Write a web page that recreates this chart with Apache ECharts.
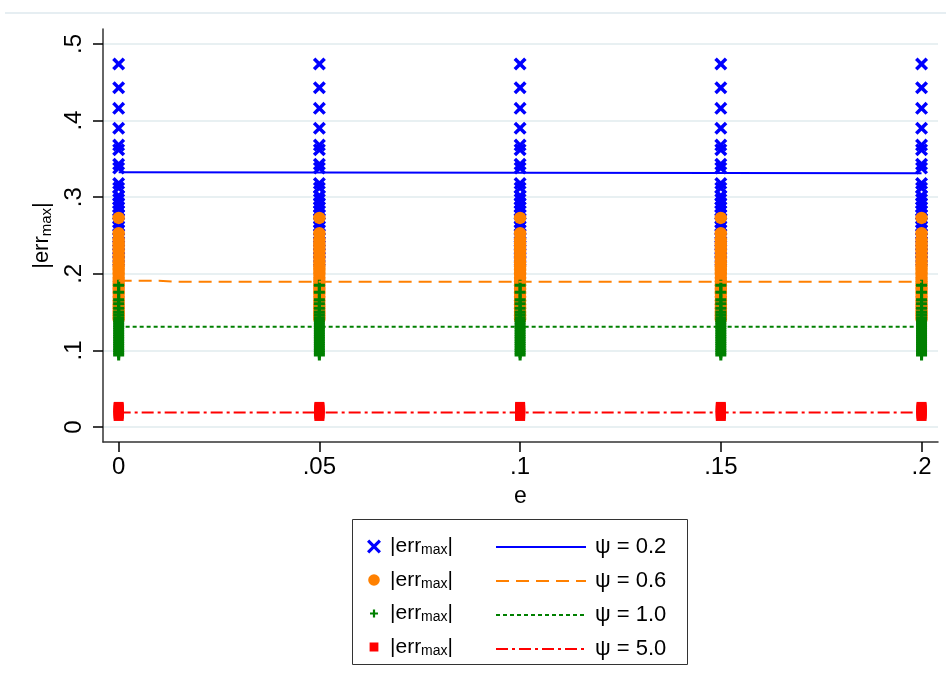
<!DOCTYPE html>
<html><head><meta charset="utf-8">
<script src="https://cdn.jsdelivr.net/npm/echarts@6/dist/echarts.min.js"></script>
<style>html,body{margin:0;padding:0;background:#fff}#c{width:951px;height:696px}</style>
</head><body><div id="c"></div>
<script>
// ---- data ----
const eValues = [0, 0.05, 0.1, 0.15, 0.2];
const xTicks = [0, 0.05, 0.1, 0.15, 0.2];
const xTickLabels = ['0', '.05', '.1', '.15', '.2'];
const yTicks = [0, 0.1, 0.2, 0.3, 0.4, 0.5];
const yTickLabels = ['0', '.1', '.2', '.3', '.4', '.5'];

// |err_max| values plotted at each e (the spread is the same in every column)
const errPsi02 = [0.474, 0.443, 0.416, 0.390, 0.368, 0.362, 0.343, 0.338, 0.318, 0.312,
  0.302, 0.297, 0.292, 0.287, 0.282, 0.277, 0.272, 0.267, 0.262, 0.257, 0.252,
  0.247, 0.242, 0.237, 0.232, 0.227, 0.222, 0.217];
const errPsi06 = [0.273, 0.253, 0.245, 0.240, 0.235, 0.230, 0.225, 0.220, 0.215, 0.210,
  0.205, 0.200, 0.195, 0.190, 0.185, 0.180, 0.175, 0.170, 0.165, 0.160, 0.155,
  0.150, 0.146, 0.141];
const errPsi10 = [0.185, 0.176, 0.166, 0.161, 0.155, 0.150, 0.146, 0.142, 0.139, 0.136,
  0.133, 0.130, 0.127, 0.124, 0.121, 0.118, 0.115, 0.112, 0.109, 0.106, 0.103,
  0.100, 0.097, 0.094];
const errPsi50 = [0.0144, 0.0165, 0.0185, 0.0205, 0.0225, 0.0245, 0.0262];

// fitted lines per psi
const lineE02 = [0, 0.05, 0.1, 0.15, 0.2];
const linePsi02 = [0.3326, 0.3323, 0.3320, 0.3317, 0.3313];
const lineE06 = [0, 0.01, 0.014, 0.05, 0.1, 0.15, 0.2];
const linePsi06 = [0.1909, 0.1909, 0.1896, 0.1896, 0.1896, 0.1896, 0.1896];
const lineE10 = [0, 0.05, 0.1, 0.15, 0.2];
const linePsi10 = [0.1308, 0.1308, 0.1308, 0.1308, 0.1308];
const lineE50 = [0, 0.05, 0.1, 0.15, 0.2];
const linePsi50 = [0.0190, 0.0190, 0.0190, 0.0190, 0.0190];

const psiLabels = ['ψ = 0.2', 'ψ = 0.6', 'ψ = 1.0', 'ψ = 5.0'];

// ---- build ----
const FONT = '"Liberation Sans", Arial, Helvetica, sans-serif';
function cols(vals) {
  const out = [];
  eValues.forEach(e => vals.forEach(v => out.push([e, v])));
  return out;
}
function pairs(xs, ys) { return xs.map((x, i) => [x, ys[i]]); }
function lbl(ticks, labels) {
  return v => { const i = ticks.findIndex(t => Math.abs(t - v) < 1e-9); return i < 0 ? '' : labels[i]; };
}
const X_PATH = 'path://M0,1.9L1.9,0L5,3.1L8.1,0L10,1.9L6.9,5L10,8.1L8.1,10L5,6.9L1.9,10L0,8.1L3.1,5Z';
const PLUS_PATH = 'path://M3.6,0H6.4V3.6H10V6.4H6.4V10H3.6V6.4H0V3.6H3.6Z';
// legend icons drawn smaller inside a 14x14 box
const CORNERS = 'M0,0L0.01,0L0,0.01ZM14,14L13.99,14L14,13.99Z';
const PLUS_ICON = 'path://' + CORNERS + 'M5.9,3H8.1V5.9H11V8.1H8.1V11H5.9V8.1H3V5.9H5.9Z';
const SQUARE_ICON = 'path://' + CORNERS + 'M2.6,2.6H11.4V11.4H2.6Z';
const CIRCLE_ICON = 'path://' + CORNERS + 'M1.2,7A5.8,5.8,0,1,0,12.8,7A5.8,5.8,0,1,0,1.2,7Z';
const X_ICON = 'path://M0,1.6L1.6,0L5,3.4L8.4,0L10,1.6L6.6,5L10,8.4L8.4,10L5,6.6L1.6,10L0,8.4L3.4,5Z';

const errRich = {
  a: { fontSize: 21, lineHeight: 22, fontFamily: FONT, color: '#000' },
  b: { fontSize: 14, lineHeight: 14, verticalAlign: 'bottom', fontFamily: FONT, color: '#000' }
};
const errRichTitle = {
  a: { fontSize: 22, lineHeight: 24, fontFamily: FONT, color: '#000' },
  b: { fontSize: 15, lineHeight: 15, verticalAlign: 'bottom', fontFamily: FONT, color: '#000' }
};
const errText = '{a||err}{b|max}{a||}';

const chart = echarts.init(document.getElementById('c'), null, { renderer: 'canvas' });
chart.setOption({
  animation: false,
  backgroundColor: '#fff',
  grid: { left: 103, right: 13, top: 29, bottom: 254, containLabel: false },
  xAxis: {
    type: 'value', min: -0.0039, max: 0.2041,
    name: 'e', nameLocation: 'middle', nameGap: 43,
    nameTextStyle: { fontSize: 23, fontFamily: FONT, color: '#000' },
    axisLine: { show: true, onZero: false, lineStyle: { color: '#333', width: 1.5 } },
    axisTick: { show: true, customValues: xTicks, length: 10, lineStyle: { color: '#000', width: 1.5 } },
    axisLabel: { customValues: xTicks, formatter: lbl(xTicks, xTickLabels), fontSize: 24, margin: 13, color: '#000', fontFamily: FONT },
    splitLine: { show: false }
  },
  yAxis: {
    type: 'value', min: -0.0196, max: 0.5196,
    name: errText, nameLocation: 'middle', nameGap: 32, nameRotate: 90,
    nameTextStyle: { rich: errRichTitle },
    axisLine: { show: true, onZero: false, lineStyle: { color: '#333', width: 1.5 } },
    axisTick: { show: true, customValues: yTicks, length: 10, lineStyle: { color: '#000', width: 1.5 } },
    axisLabel: { customValues: yTicks, formatter: lbl(yTicks, yTickLabels), rotate: 90, fontSize: 24, margin: 17, color: '#000', fontFamily: FONT },
    splitLine: { show: true, lineStyle: { color: '#e8f0f2', width: 2 } }
  },
  legend: [
    {
      data: [
        { name: 's02', icon: X_ICON },
        { name: 's06', icon: CIRCLE_ICON },
        { name: 's10', icon: PLUS_ICON },
        { name: 's50', icon: SQUARE_ICON }
      ],
      orient: 'vertical', left: 362, top: 531,
      itemWidth: 14, itemHeight: 14, itemGap: 12, selectedMode: false,
      formatter: () => errText,
      textStyle: { rich: errRich, padding: [0, 0, 0, 4] }
    },
    {
      data: ['l02', 'l06', 'l10', 'l50'], orient: 'vertical', left: 490, top: 531,
      itemWidth: 90, itemHeight: 14, itemGap: 12, selectedMode: false,
      itemStyle: { opacity: 0 },
      formatter: n => psiLabels[['l02', 'l06', 'l10', 'l50'].indexOf(n)],
      textStyle: { fontSize: 22, lineHeight: 22, fontFamily: FONT, color: '#000', padding: [0, 0, 0, 4] }
    }
  ],
  graphic: [
    { type: 'line', shape: { x1: 5, y1: 13, x2: 946, y2: 13 }, style: { stroke: '#e6eef2', lineWidth: 2 }, silent: true },
    { type: 'rect', shape: { x: 352.5, y: 519.5, width: 335, height: 145 }, style: { fill: 'none', stroke: '#333', lineWidth: 1 }, silent: true, z: 10 }
  ],
  series: [
    { name: 's02', type: 'scatter', data: cols(errPsi02), symbol: X_PATH, symbolSize: 13, itemStyle: { color: '#0000ff', opacity: 1 }, z: 2 },
    { name: 's06', type: 'scatter', data: cols(errPsi06), symbol: 'circle', symbolSize: 12.5, itemStyle: { color: '#ff8000', opacity: 1 }, z: 2 },
    { name: 's10', type: 'scatter', data: cols(errPsi10), symbol: PLUS_PATH, symbolSize: 11, itemStyle: { color: '#008000', opacity: 1 }, z: 2 },
    { name: 's50', type: 'scatter', data: cols(errPsi50), symbol: 'rect', symbolSize: 10, itemStyle: { color: '#ff0000', opacity: 1 }, z: 2 },
    { name: 'l02', type: 'line', data: pairs(lineE02, linePsi02), symbol: 'none', lineStyle: { color: '#0000ff', width: 2, type: 'solid' }, itemStyle: { color: '#0000ff' }, z: 3 },
    { name: 'l06', type: 'line', data: pairs(lineE06, linePsi06), symbol: 'none', lineStyle: { color: '#ff8000', width: 2, type: [13, 7] }, itemStyle: { color: '#ff8000' }, z: 3 },
    { name: 'l10', type: 'line', data: pairs(lineE10, linePsi10), symbol: 'none', lineStyle: { color: '#008000', width: 2, type: [4, 3] }, itemStyle: { color: '#008000' }, z: 3 },
    { name: 'l50', type: 'line', data: pairs(lineE50, linePsi50), symbol: 'none', lineStyle: { color: '#ff0000', width: 2, type: [12, 4, 3, 4] }, itemStyle: { color: '#ff0000' }, z: 3 }
  ]
});
</script></body></html>
